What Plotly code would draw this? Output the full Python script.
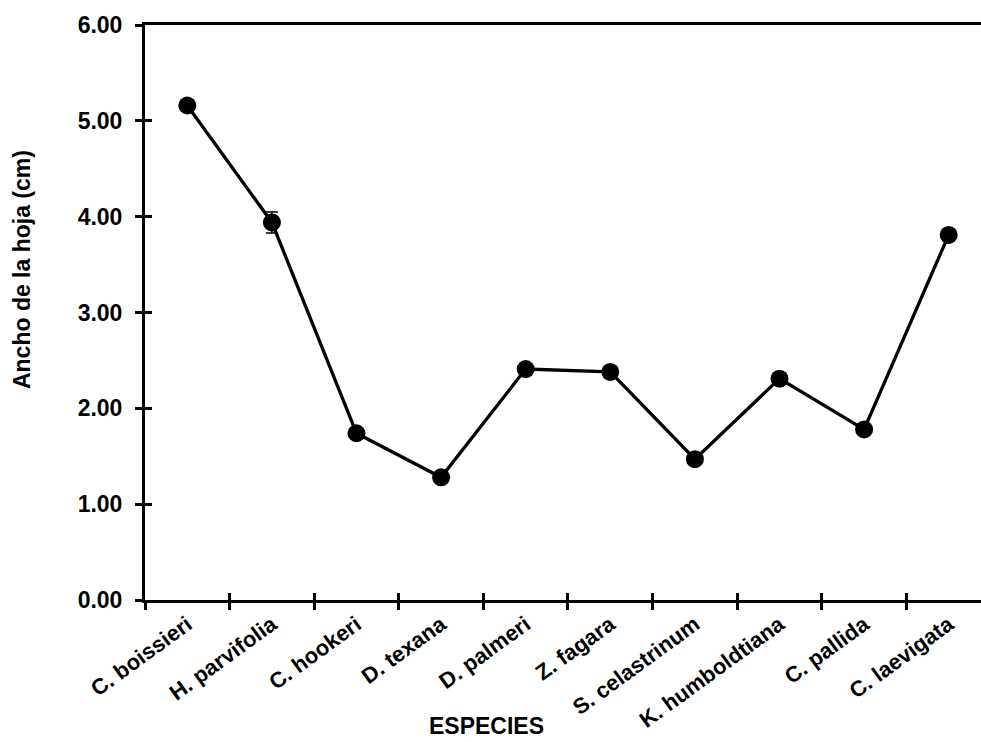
import plotly.graph_objects as go

# Leaf width per species (mean and standard error)
especies = ["C. boissieri", "H. parvifolia", "C. hookeri", "D. texana", "D. palmeri",
            "Z. fagara", "S. celastrinum", "K. humboldtiana", "C. pallida", "C. laevigata"]
ancho = [5.16, 3.94, 1.74, 1.28, 2.41, 2.38, 1.47, 2.31, 1.78, 3.81]
error = [0.05, 0.11, 0.05, 0.04, 0.05, 0.05, 0.04, 0.05, 0.05, 0.06]

y_ticks = [0, 1, 2, 3, 4, 5, 6]
x_range = [-0.5, 9.382]
y_range = [0, 6]

FONT = "Liberation Sans"
font = dict(family=FONT, size=23, color="black", weight="bold")
xtick_font = dict(family=FONT, size=22, color="black", weight="bold")

fig = go.Figure()
fig.add_trace(go.Scatter(
    x=especies, y=ancho,
    mode="lines+markers",
    line=dict(color="black", width=3.3),
    marker=dict(color="black", size=18),
    error_y=dict(type="data", array=error, visible=True, color="black",
                 thickness=1.5, width=6),
    showlegend=False,
))

# invisible helper trace to activate the overlay axes carrying the inner tick halves
fig.add_trace(go.Scatter(x=[0], y=[0], xaxis="x2", yaxis="y2", mode="markers",
                         marker=dict(opacity=0), showlegend=False, hoverinfo="skip"))

fig.update_layout(
    width=981, height=742,
    margin=dict(l=145, r=0, t=25, b=142),
    plot_bgcolor="white", paper_bgcolor="white",
    font=font,
    xaxis=dict(
        type="category", categoryorder="array", categoryarray=especies,
        range=x_range, tickson="boundaries", automargin=False,
        ticks="outside", ticklen=7, tickwidth=3, tickcolor="black",
        showline=True, linewidth=3, linecolor="black", mirror=True,
        showgrid=False, zeroline=False, tickangle=-36,
        tickfont=xtick_font,
    ),
    xaxis2=dict(
        overlaying="x", anchor="y", range=x_range, automargin=False,
        tickmode="array", tickvals=[i - 0.5 for i in range(11)],
        ticks="inside", ticklen=7, tickwidth=3, tickcolor="black",
        showticklabels=False, showgrid=False, zeroline=False, showline=False,
    ),
    yaxis=dict(
        range=y_range, tickmode="array", tickvals=y_ticks,
        ticktext=[f"{v:.2f}" for v in y_ticks], automargin=False,
        ticks="outside", ticklen=7, tickwidth=3, tickcolor="black",
        showline=True, linewidth=3, linecolor="black",
        showgrid=False, zeroline=False, ticklabelstandoff=8,
        tickfont=font,
    ),
    yaxis2=dict(
        overlaying="y", anchor="x", range=y_range, automargin=False,
        tickmode="array", tickvals=y_ticks,
        ticks="inside", ticklen=7, tickwidth=3, tickcolor="black",
        showticklabels=False, showgrid=False, zeroline=False, showline=False,
    ),
    annotations=[
        dict(text="ESPECIES", xref="paper", yref="paper", x=0.409, y=-0.219,
             xanchor="center", yanchor="middle", showarrow=False, font=font),
        dict(text="Ancho de la hoja (cm)", xref="paper", yref="paper",
             x=-0.147, y=0.574, textangle=-90,
             xanchor="center", yanchor="middle", showarrow=False, font=font),
    ],
)

fig.write_html("out.html")
